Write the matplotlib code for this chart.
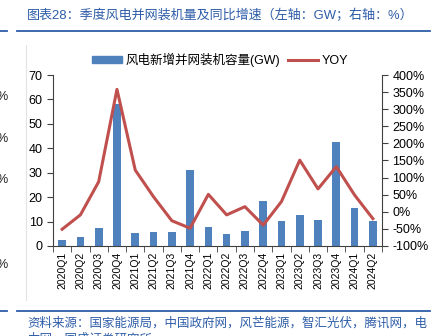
import numpy as np
import matplotlib
matplotlib.use("Agg")
import matplotlib.pyplot as plt
from matplotlib.lines import Line2D

plt.rcParams['font.family'] = ['Liberation Sans', 'Noto Sans CJK SC', 'DejaVu Sans']
plt.rcParams['axes.unicode_minus'] = False

# ── data ────────────────────────────────────────────────────────────
quarters = ["2020Q1", "2020Q2", "2020Q3", "2020Q4",
            "2021Q1", "2021Q2", "2021Q3", "2021Q4",
            "2022Q1", "2022Q2", "2022Q3", "2022Q4",
            "2023Q1", "2023Q2", "2023Q3", "2023Q4",
            "2024Q1", "2024Q2"]
capacity_gw = [2.3, 3.8, 7.5, 58.0, 5.2, 5.6, 5.6, 31.1,
               7.8, 5.0, 6.1, 18.4, 10.2, 12.7, 10.5, 42.6,
               15.6, 10.2]
yoy_pct = [-51, -9, 88, 358, 122, 44, -26, -48,
           51, -9, 15, -39, 30, 151, 67, 132,
           49, -20]

left_ticks = [0, 10, 20, 30, 40, 50, 60, 70]
right_ticks = [-100, -50, 0, 50, 100, 150, 200, 250, 300, 350, 400]

BLUE = "#4F81BD"
RED = "#C0504D"
TITLE_BLUE = "#2E5DA8"

W, H = 442, 336
fig = plt.figure(figsize=(W / 100, H / 100), dpi=100)

ax = fig.add_axes([53 / W, 1 - 246 / H, (382 - 53) / W, (246 - 75) / H])
x = np.arange(len(quarters))
ax.bar(x, capacity_gw, width=0.42, color=BLUE, label="风电新增并网装机容量(GW)", zorder=2)
ax.set_xlim(-0.5, len(quarters) - 0.5)
ax.set_ylim(0, 70)
ax.set_yticks(left_ticks)
ax.set_xticks(x)
ax.set_xticklabels(quarters, rotation=90, fontsize=7.5)
ax.set_xticks(np.arange(-0.5, len(quarters), 1), minor=True)
ax.tick_params(axis="x", which="major", length=0, pad=4)
ax.tick_params(axis="x", which="minor", length=4, color="#404040")
ax.tick_params(axis="y", labelsize=9, length=4, color="#404040")
ax.spines["top"].set_visible(False)
ax.spines["right"].set_visible(False)
for s in ("left", "bottom"):
    ax.spines[s].set_color("#404040")

ax2 = ax.twinx()
ax2.plot(x, yoy_pct, color=RED, lw=2.2, label="YOY", zorder=3)
ax2.set_ylim(-100, 400)
ax2.set_yticks(right_ticks)
ax2.set_yticklabels([f"{v}%" for v in right_ticks])
ax2.tick_params(axis="y", labelsize=9, length=4, color="#404040")
ax2.spines["top"].set_visible(False)
ax2.spines["left"].set_visible(False)
ax2.spines["bottom"].set_visible(False)
ax2.spines["right"].set_color("#404040")

handles = [plt.Rectangle((0, 0), 1, 1, color=BLUE),
           Line2D([0], [0], color=RED, lw=2.2)]
fig.legend(handles, ["风电新增并网装机容量(GW)", "YOY"], loc="center",
           bbox_to_anchor=(220 / W, 1 - 60 / H), ncol=2, frameon=False,
           fontsize=9, handlelength=2.4, handleheight=0.45,
           columnspacing=0.6, handletextpad=0.3)

# title, rules and source
fig.text(27 / W, 1 - 16 / H, "图表28：季度风电并网装机量及同比增速（左轴：GW；右轴：%）",
         color=TITLE_BLUE, fontsize=9.4, va="center", ha="left")
for yy in (31, 311):
    fig.add_artist(Line2D([17 / W, 430 / W], [1 - yy / H] * 2, color=TITLE_BLUE, lw=1.3))
    fig.add_artist(Line2D([0, 7 / W], [1 - yy / H] * 2, color=TITLE_BLUE, lw=1.3))
fig.add_artist(Line2D([26 / W, 26 / W], [1 - 45 / H, 1 - 300 / H], color="#E3E3E3", lw=0.8))
fig.text(27 / W, 1 - 323 / H, "资料来源：国家能源局，中国政府网，风芒能源，智汇光伏，腾讯网，电",
         color=TITLE_BLUE, fontsize=9, va="center", ha="left")
fig.text(27 / W, 1 - 339 / H, "力网，国盛证券研究所",
         color=TITLE_BLUE, fontsize=9, va="center", ha="left")

# cut-off marks from the neighbouring chart at the left edge
for yy in (97, 139, 180, 265):
    fig.text(8 / W, 1 - yy / H, "%", fontsize=9, ha="right", va="center", color="#222222")

fig.savefig("out.png", dpi=100)
